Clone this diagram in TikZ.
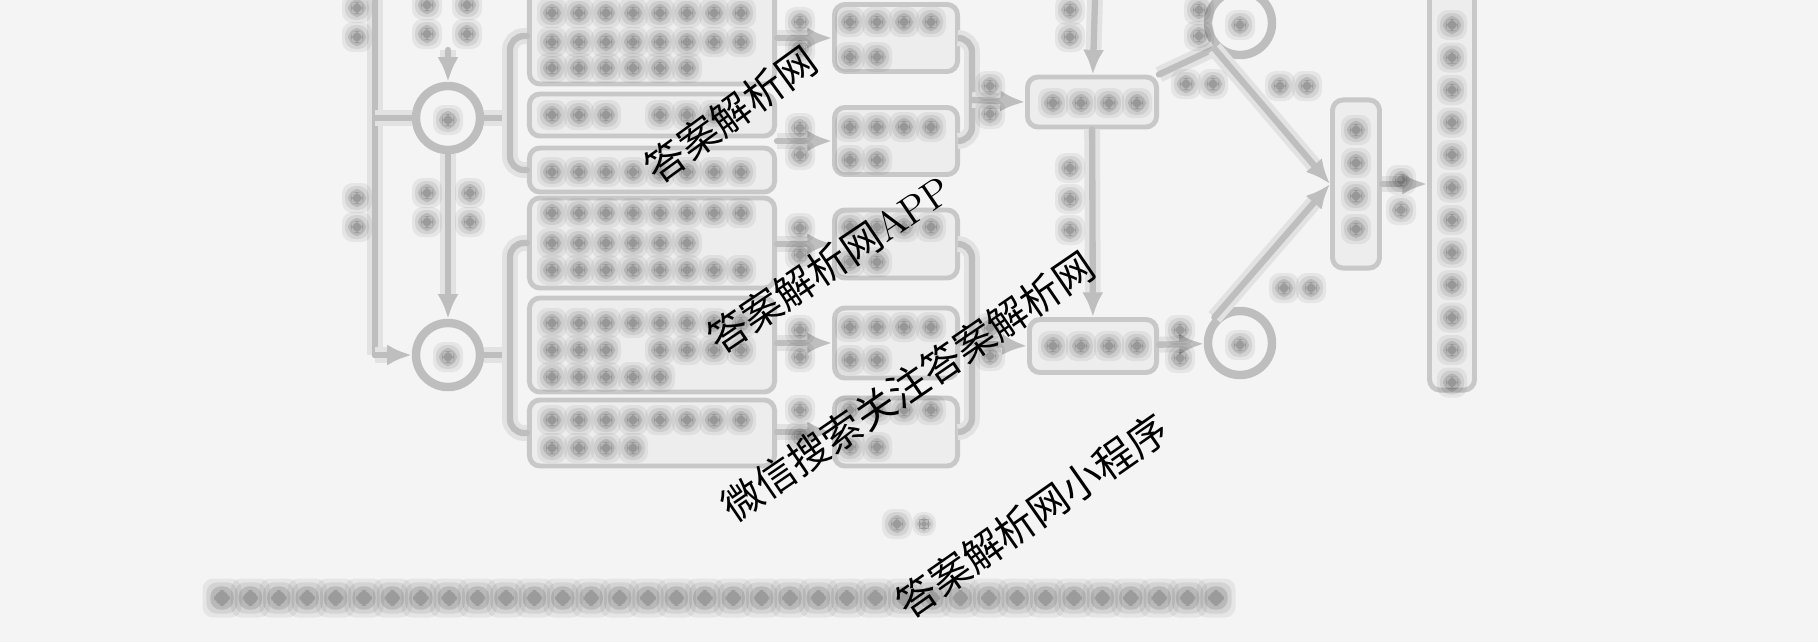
\documentclass[tikz,border=0pt]{standalone}
\usepackage{fontspec}
\newfontfamily\cjk{Noto Sans CJK SC}
\usetikzlibrary{arrows.meta}

\definecolor{paper}{HTML}{F4F4F4}
\definecolor{ink}{HTML}{BEBEBE}

\tikzset{
  ln/.style={draw=ink, line width=1.8pt, line cap=round,
    preaction={draw=ink!45, line width=4.5pt}},
  ar/.style={ln, -{Latex[length=7pt,width=6pt]}},
  bx/.style={draw=ink!85, line width=1.4pt, fill=black!7, rounded corners=3pt, inner sep=0pt},
  ring/.style={circle, draw=ink, line width=2.4pt, minimum size=0.64cm, inner sep=0pt},
  wm/.style={font=\cjk\fontsize{11.4}{12}\selectfont, text=black, rotate=35, inner sep=0pt},
}

% one blurred glyph: \gl[half size]{x}{y}
\newcommand\gl[3][10]{%
  \foreach \s/\o in {1.5/.06,1.2/.08,0.9/.12,0.6/.16}
    {\fill[black,opacity=\o,rounded corners=3pt] ({#2-\s*#1},{#3-\s*#1}) rectangle ({#2+\s*#1},{#3+\s*#1});}}
% a row and a column of glyphs
\newcommand\rowg[4][27]{\foreach \k in {1,...,#4} {\gl{#2+#1*(\k-1)}{#3}}}
\newcommand\colg[4][29]{\foreach \k in {1,...,#4} {\gl{#2}{#3+#1*(\k-1)}}}

\begin{document}
\begin{tikzpicture}[x=0.01cm,y=-0.01cm]
\fill[paper] (0,0) rectangle (1818,642);
\useasboundingbox (0,0) rectangle (1818,642);

% circles on the left
\node[ring] (cA) at (448,118) {};
\node[ring] (cB) at (448,355) {};
\gl{448}{120} \gl{448}{357}

% left line
\coordinate (lt) at (375,0);
\coordinate (lm) at (375,118);
\coordinate (lb) at (375,355);
\coordinate (tA) at (448,50);
\draw[ln] (lt) -- (lb);
\draw[ln] (lm) -- (cA);
\draw[ar] (lb) -- (cB);
\draw[ar] (tA) -- (cA);
\draw[ar] (cA) -- (cB);
\colg{357}{8}{2}
\colg{357}{198}{2}
\colg{427}{5}{2} \colg{467}{5}{2}
\colg{427}{193}{2} \colg{470}{193}{2}

% middle boxes
\node[bx, minimum width=2.45cm, minimum height=0.96cm] (b1) at (652,36) {};
\node[bx, minimum width=2.45cm, minimum height=0.42cm] (b2) at (652,115) {};
\node[bx, minimum width=2.45cm, minimum height=0.44cm] (b3) at (652,170) {};
\node[bx, minimum width=2.45cm, minimum height=0.90cm] (b4) at (652,243) {};
\node[bx, minimum width=2.45cm, minimum height=0.94cm] (b5) at (652,345) {};
\node[bx, minimum width=2.45cm, minimum height=0.66cm] (b6) at (652,433) {};
\rowg{552}{13}{8} \rowg{552}{42}{8} \rowg{552}{68}{6}
\rowg{552}{115}{3} \rowg{660}{115}{3}
\rowg{552}{172}{8}
\rowg{552}{213}{8} \rowg{552}{243}{6} \rowg{552}{270}{8}
\rowg{552}{323}{8} \rowg{552}{350}{3} \rowg{660}{350}{4} \rowg{552}{377}{5}
\rowg{552}{420}{8} \rowg{552}{448}{4}

% brackets from the circles
\coordinate (kA) at (510,118);
\coordinate (kB) at (510,355);
\draw[ln] (cA) -- (kA);
\draw[ln] (cB) -- (kB);
\draw[ln, rounded corners=4pt] (b1.west) -| (kA) |- (b3.west);
\draw[ln, rounded corners=4pt] (b4.west) -| (kB) |- (b6.west);

% right boxes
\node[bx, minimum width=1.23cm, minimum height=0.67cm] (r1) at (896,38) {};
\node[bx, minimum width=1.23cm, minimum height=0.67cm] (r2) at (896,141) {};
\node[bx, minimum width=1.23cm, minimum height=0.68cm] (r3) at (896,244) {};
\node[bx, minimum width=1.23cm, minimum height=0.70cm] (r4) at (896,343) {};
\node[bx, minimum width=1.23cm, minimum height=0.68cm] (r5) at (896,432) {};
\rowg{850}{22}{4} \rowg{850}{57}{2}
\rowg{850}{127}{4} \rowg{850}{160}{2}
\rowg{850}{227}{4} \rowg{850}{262}{2}
\rowg{850}{327}{4} \rowg{850}{360}{2}
\rowg{850}{410}{4} \rowg{850}{447}{2}
\draw[ar] (b1.east |- r1.west) -- (r1.west);
\draw[ar] (b2.east |- r2.west) -- (r2.west);
\draw[ar] (b4.east |- r3.west) -- (r3.west);
\draw[ar] (b5.east |- r4.west) -- (r4.west);
\draw[ar] (b6.east |- r5.west) -- (r5.west);
\colg[27]{800}{22}{2} \colg[27]{800}{128}{2}
\colg[27]{800}{228}{2} \colg[27]{800}{330}{2} \colg[27]{800}{410}{2}

% middle column
\node[bx, minimum width=1.29cm, minimum height=0.50cm] (t1) at (1092,102) {};
\node[bx, minimum width=1.27cm, minimum height=0.53cm] (t2) at (1093,346) {};
\rowg[28]{1053}{103}{4}
\rowg[28]{1053}{346}{4}
\coordinate (kC) at (972,100);
\coordinate (kD) at (972,343);
\draw[ln, rounded corners=4pt] (r1.east) -| (kC) |- (r2.east);
\draw[ln, rounded corners=4pt] (r3.east) -| (kD) |- (r5.east);
\draw[ln] (r4.east) -- (kD);
\draw[ar] (kC) -- (t1.west);
\draw[ar] (kD) -- (t2.west);
\colg[28]{990}{86}{2} \colg[28]{990}{328}{2}
\coordinate (tT) at (1095,0);
\draw[ar] (tT) -- (t1);
\draw[ar] (t1) -- (t2);
\colg[27]{1070}{10}{2}
\colg[31]{1070}{168}{3}

% circles on the right and the converging lines
\node[ring] (cC) at (1240,23) {};
\node[ring] (cD) at (1240,343) {};
\gl{1240}{25} \gl{1240}{345}
\node[bx, minimum width=0.47cm, minimum height=1.68cm] (m) at (1356,184) {};
\colg[33]{1356}{130}{4}
\draw[ln] (t1.north east) -- (cC.south west);
\draw[ar] (cC.south west) -- (m.west);
\draw[ar] (cD.north west) -- (m.west);
\draw[ar] (t2) -- (cD);
\rowg{1186}{84}{2}
\rowg{1280}{86}{2}
\rowg{1284}{288}{2}
\colg[26]{1199}{10}{2}
\colg[28]{1180}{330}{2}

% tall box on the right
\node[bx, minimum width=0.45cm, minimum height=4.02cm] (T) at (1452,189) {};
\colg[32.5]{1452}{25}{12}
\draw[ar] (m) -- (m -| T.west);
\colg[30]{1401}{180}{2}

% caption and question line
\gl{897}{524} \gl[8]{924}{524}
\foreach \k in {0,...,35} {\gl[13]{222+28.4*\k}{598}}

% watermarks
\node[wm, rotate=1] (w1) at (731,114) {答案解析网};
\node[wm, rotate=-1] (w2) at (829,264) {答案解析网\rmfamily APP};
\node[wm, rotate=-0.6] (w3) at (908,386) {微信搜索关注答案解析网};
\node[wm] (w4) at (1032,516) {答案解析网小程序};
\end{tikzpicture}
\end{document}
